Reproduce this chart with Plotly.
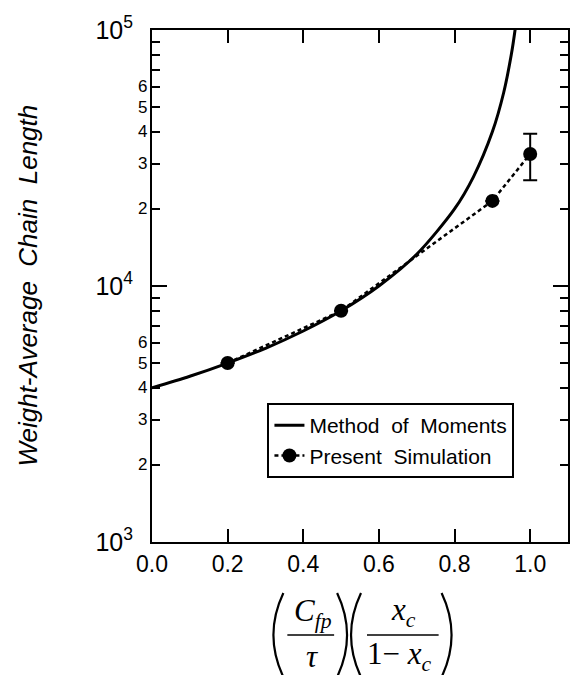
import math
import plotly.graph_objects as go

# ---- data ----
mom_x = [0.0, 0.1, 0.2, 0.3, 0.4, 0.5, 0.6, 0.7, 0.8, 0.85, 0.9, 0.93, 0.95, 0.96, 0.97]
mom_y = [4000, 4440, 5000, 5710, 6670, 8000, 10000, 13300, 20000, 26700, 40000, 57000, 80000, 100000, 133000]

sim_x = [0.2, 0.5, 0.9, 1.0]
sim_y = [5000, 8000, 21500, 32800]
sim_err_plus = [None, None, None, 6500]
sim_err_minus = [None, None, None, 6900]

x_tick_vals = [0.0, 0.2, 0.4, 0.6, 0.8, 1.0]
x_tick_text = ["0.0", "0.2", "0.4", "0.6", "0.8", "1.0"]
y_major_vals = [1e3, 1e4, 1e5]
y_major_text = ["10<sup>3</sup>", "10<sup>4</sup>", "10<sup>5</sup>"]
y_minor_vals = [m * d for d in (1e3, 1e4) for m in range(2, 10)]
y_digit_vals = [m * d for d in (1e3, 1e4) for m in range(2, 7)]
y_digit_text = [str(m) for d in (1e3, 1e4) for m in range(2, 7)]

# ---- geometry (pixels) ----
W, H = 571, 675
L, R, T, B = 152, 1, 30, 133
PW = W - L - R
PH = H - T - B


def px(x):
    return (x - L) / PW


def py(y):
    return (H - B - y) / PH


SANS = "Liberation Sans, Arial, Helvetica, sans-serif"
SERIF = "Liberation Serif, Times New Roman, serif"
NB2 = "\u00a0\u00a0"

fig = go.Figure()
fig.add_trace(go.Scatter(
    x=mom_x, y=mom_y, mode="lines", name="Method" + NB2 + "of" + NB2 + "Moments",
    line=dict(color="black", width=3, shape="spline", smoothing=0.8),
))
fig.add_trace(go.Scatter(
    x=sim_x, y=sim_y, mode="lines+markers", name="Present" + NB2 + "Simulation",
    line=dict(color="black", width=2.5, dash="4px,3px"),
    marker=dict(color="black", size=14),
    error_y=dict(type="data", symmetric=False, array=sim_err_plus,
                 arrayminus=sim_err_minus, color="black", thickness=2, width=7),
))

annotations = []
for v, t in zip(y_digit_vals, y_digit_text):
    annotations.append(dict(
        x=0, xref="paper", y=math.log10(v), yref="y", text=t, showarrow=False,
        xanchor="right", yanchor="middle", xshift=-3,
        font=dict(family=SANS, size=17, color="black"),
    ))

annotations.append(dict(
    x=px(27), xref="paper", y=0.5, yref="paper",
    text="<i>Weight-Average\u00a0\u00a0Chain\u00a0\u00a0Length</i>",
    textangle=-90, showarrow=False, xanchor="center", yanchor="middle",
    font=dict(family=SANS, size=26, color="black"),
))

# x-axis title: (C_fp / tau)(x_c / (1 - x_c))
formula = [
    ("<i>C</i><sub><i>fp</i></sub>", 314, 613),
    ("<i>τ</i>", 313, 656),
    ("<i>x</i><sub><i>c</i></sub>", 405, 612),
    ("1\u2212 <i>x</i><sub><i>c</i></sub>", 401, 656),
]
for t, xx, yy in formula:
    annotations.append(dict(
        x=px(xx), xref="paper", y=py(yy), yref="paper", text=t,
        showarrow=False, xanchor="center", yanchor="middle",
        font=dict(family=SERIF, size=31, color="black"),
    ))

shapes = []
# fraction bars
for x0, x1 in ((288, 335), (368, 440)):
    shapes.append(dict(type="line", xref="paper", yref="paper",
                       x0=px(x0), x1=px(x1), y0=py(635), y1=py(635),
                       line=dict(color="black", width=1.5)))


def paren(xe, xc, y0=593, y1=677):
    return "M {:.5f},{:.5f} Q {:.5f},{:.5f} {:.5f},{:.5f}".format(
        px(xe), py(y0), px(xc), py((y0 + y1) / 2), px(xe), py(y1))


for xe, xc in ((284, 264), (338, 358), (362, 342), (443, 463)):
    shapes.append(dict(type="path", xref="paper", yref="paper",
                       path=paren(xe, xc), line=dict(color="black", width=2.2)))

fig.update_layout(
    width=W, height=H,
    margin=dict(l=L, r=R, t=T, b=B, pad=0),
    paper_bgcolor="white", plot_bgcolor="white",
    showlegend=True,
    legend=dict(
        x=px(268), y=py(403), xanchor="left", yanchor="top",
        bgcolor="white", bordercolor="black", borderwidth=2,
        font=dict(family=SANS, size=21, color="black"),
        tracegroupgap=0, itemwidth=30,
    ),
    xaxis=dict(
        range=[0, 1.1], tickmode="array", tickvals=x_tick_vals, ticktext=x_tick_text,
        ticks="inside", ticklen=13, tickwidth=2, tickcolor="black",
        showline=True, linecolor="black", linewidth=2, mirror="ticks",
        showgrid=False, zeroline=False,
        tickfont=dict(family=SANS, size=23, color="black"),
    ),
    yaxis=dict(
        type="log", range=[3, 5], tickmode="array",
        tickvals=y_major_vals, ticktext=y_major_text,
        ticks="inside", ticklen=15, tickwidth=2, tickcolor="black",
        showline=True, linecolor="black", linewidth=2, mirror="ticks",
        showgrid=False, zeroline=False, ticklabelstandoff=12,
        tickfont=dict(family=SANS, size=25, color="black"),
        minor=dict(tickmode="array", tickvals=y_minor_vals, ticks="inside",
                   ticklen=8, tickwidth=2, tickcolor="black", showgrid=False),
    ),
    annotations=annotations,
    shapes=shapes,
)

fig.write_html("out.html")
